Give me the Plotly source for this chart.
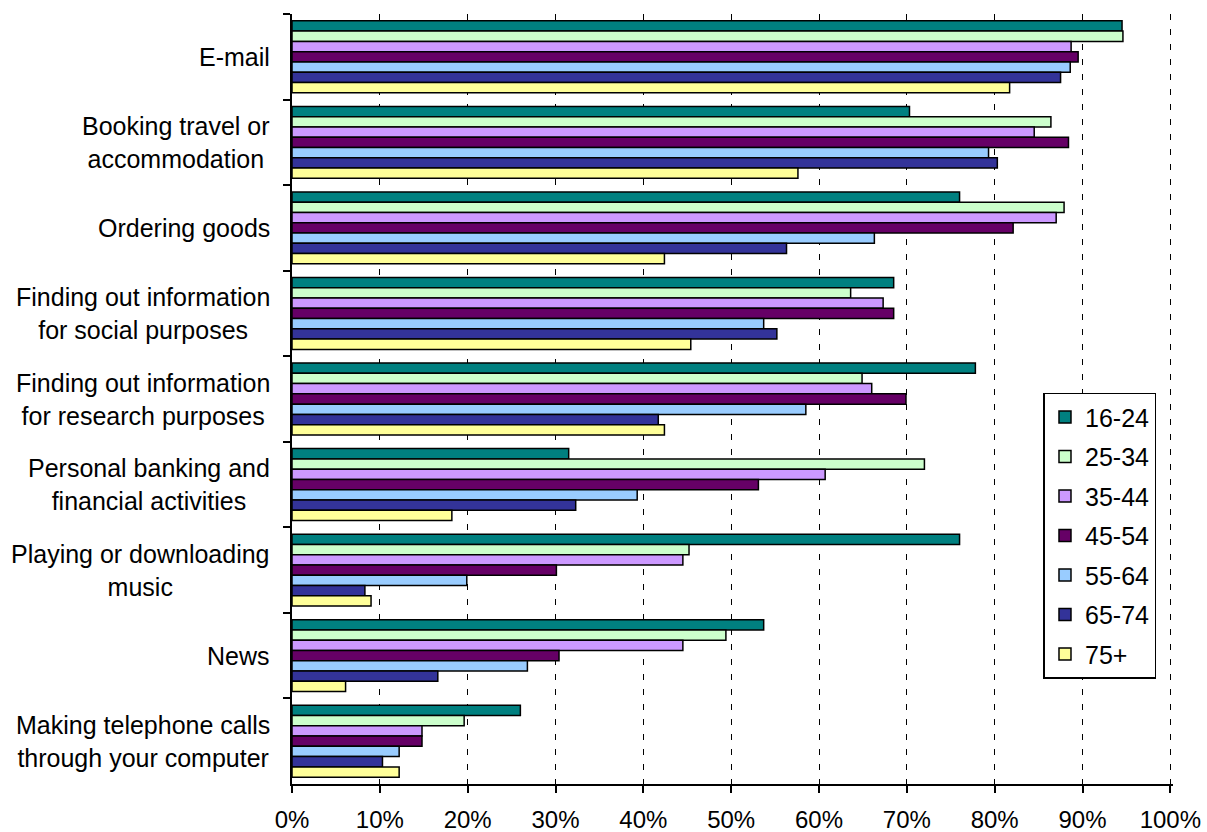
import plotly.graph_objects as go

# Internet activities by age group (% of users)
activities = [
    "E-mail",
    "Booking travel or<br>accommodation",
    "Ordering goods",
    "Finding out information<br>for social purposes",
    "Finding out information<br>for research purposes",
    "Personal banking and<br>financial activities",
    "Playing or downloading<br>music",
    "News",
    "Making telephone calls<br>through your computer",
]

age_groups = ["16-24", "25-34", "35-44", "45-54", "55-64", "65-74", "75+"]

age_16_24 = [94.5, 70.3, 76.0, 68.5, 77.8, 31.5, 76.0, 53.7, 26.0]
age_25_34 = [94.6, 86.4, 87.9, 63.6, 64.9, 72.0, 45.2, 49.4, 19.6]
age_35_44 = [88.7, 84.5, 87.0, 67.3, 66.0, 60.7, 44.5, 44.5, 14.8]
age_45_54 = [89.5, 88.4, 82.1, 68.5, 69.9, 53.1, 30.1, 30.4, 14.8]
age_55_64 = [88.6, 79.3, 66.3, 53.7, 58.5, 39.3, 19.9, 26.8, 12.2]
age_65_74 = [87.5, 80.3, 56.3, 55.2, 41.7, 32.3, 8.3, 16.6, 10.3]
age_75_plus = [81.7, 57.6, 42.4, 45.4, 42.4, 18.2, 9.0, 6.1, 12.2]

x_tick_values = [0, 10, 20, 30, 40, 50, 60, 70, 80, 90, 100]
x_tick_labels = ["0%", "10%", "20%", "30%", "40%", "50%", "60%", "70%", "80%", "90%", "100%"]

series = [age_16_24, age_25_34, age_35_44, age_45_54, age_55_64, age_65_74, age_75_plus]
colors = ["#008080", "#CCFFCC", "#CC99FF", "#660066", "#99CCFF", "#333399", "#FFFF99"]

FONT = "Liberation Sans, Arial, sans-serif"

fig = go.Figure()
for name, vals, col in zip(age_groups, series, colors):
    fig.add_trace(go.Bar(
        y=activities, x=vals, name=name, orientation="h",
        marker=dict(color=col, line=dict(color="#000000", width=1.5)),
        legendgroup=name,
    ))

# Category labels, centred line by line and right-aligned against the axis
for act in activities:
    fig.add_annotation(
        x=0, xref="paper", y=act, yref="y",
        text=act, showarrow=False, xanchor="right", yanchor="middle",
        align="center", xshift=-20,
        font=dict(family=FONT, size=25, color="#000000"),
    )

fig.update_layout(
    width=1207, height=832,
    margin=dict(l=292, r=34, t=14, b=48),
    paper_bgcolor="white", plot_bgcolor="white",
    barmode="group", bargap=0.16, bargroupgap=0,
    font=dict(family=FONT, size=25, color="#000000"),
    showlegend=True,
    legend=dict(
        x=0.853, y=0.508, xanchor="left", yanchor="top",
        bordercolor="#000000", borderwidth=1.5, bgcolor="white",
        traceorder="grouped", tracegroupgap=4,
        font=dict(family=FONT, size=25, color="#000000"),
        itemwidth=30,
    ),
    xaxis=dict(
        # a hair past 100 so the 100% grid line is still drawn
        range=[0, 100.3], tickvals=x_tick_values, ticktext=x_tick_labels,
        showgrid=True, gridcolor="#000000", gridwidth=1, griddash="6px,9px",
        zeroline=False, showline=True, linecolor="#000000", linewidth=1.5,
        ticks="outside", ticklen=7, tickcolor="#000000", tickwidth=1.5,
        ticklabelstandoff=6, automargin=False,
        tickfont=dict(family=FONT, size=24, color="#000000"),
    ),
    yaxis=dict(
        type="category", autorange="reversed",
        showticklabels=False, tickson="boundaries",
        ticks="outside", ticklen=7, tickcolor="#000000", tickwidth=1.5,
        showline=True, linecolor="#000000", linewidth=1.5,
        showgrid=False, zeroline=False, automargin=False,
    ),
)

fig.write_html("out.html")
